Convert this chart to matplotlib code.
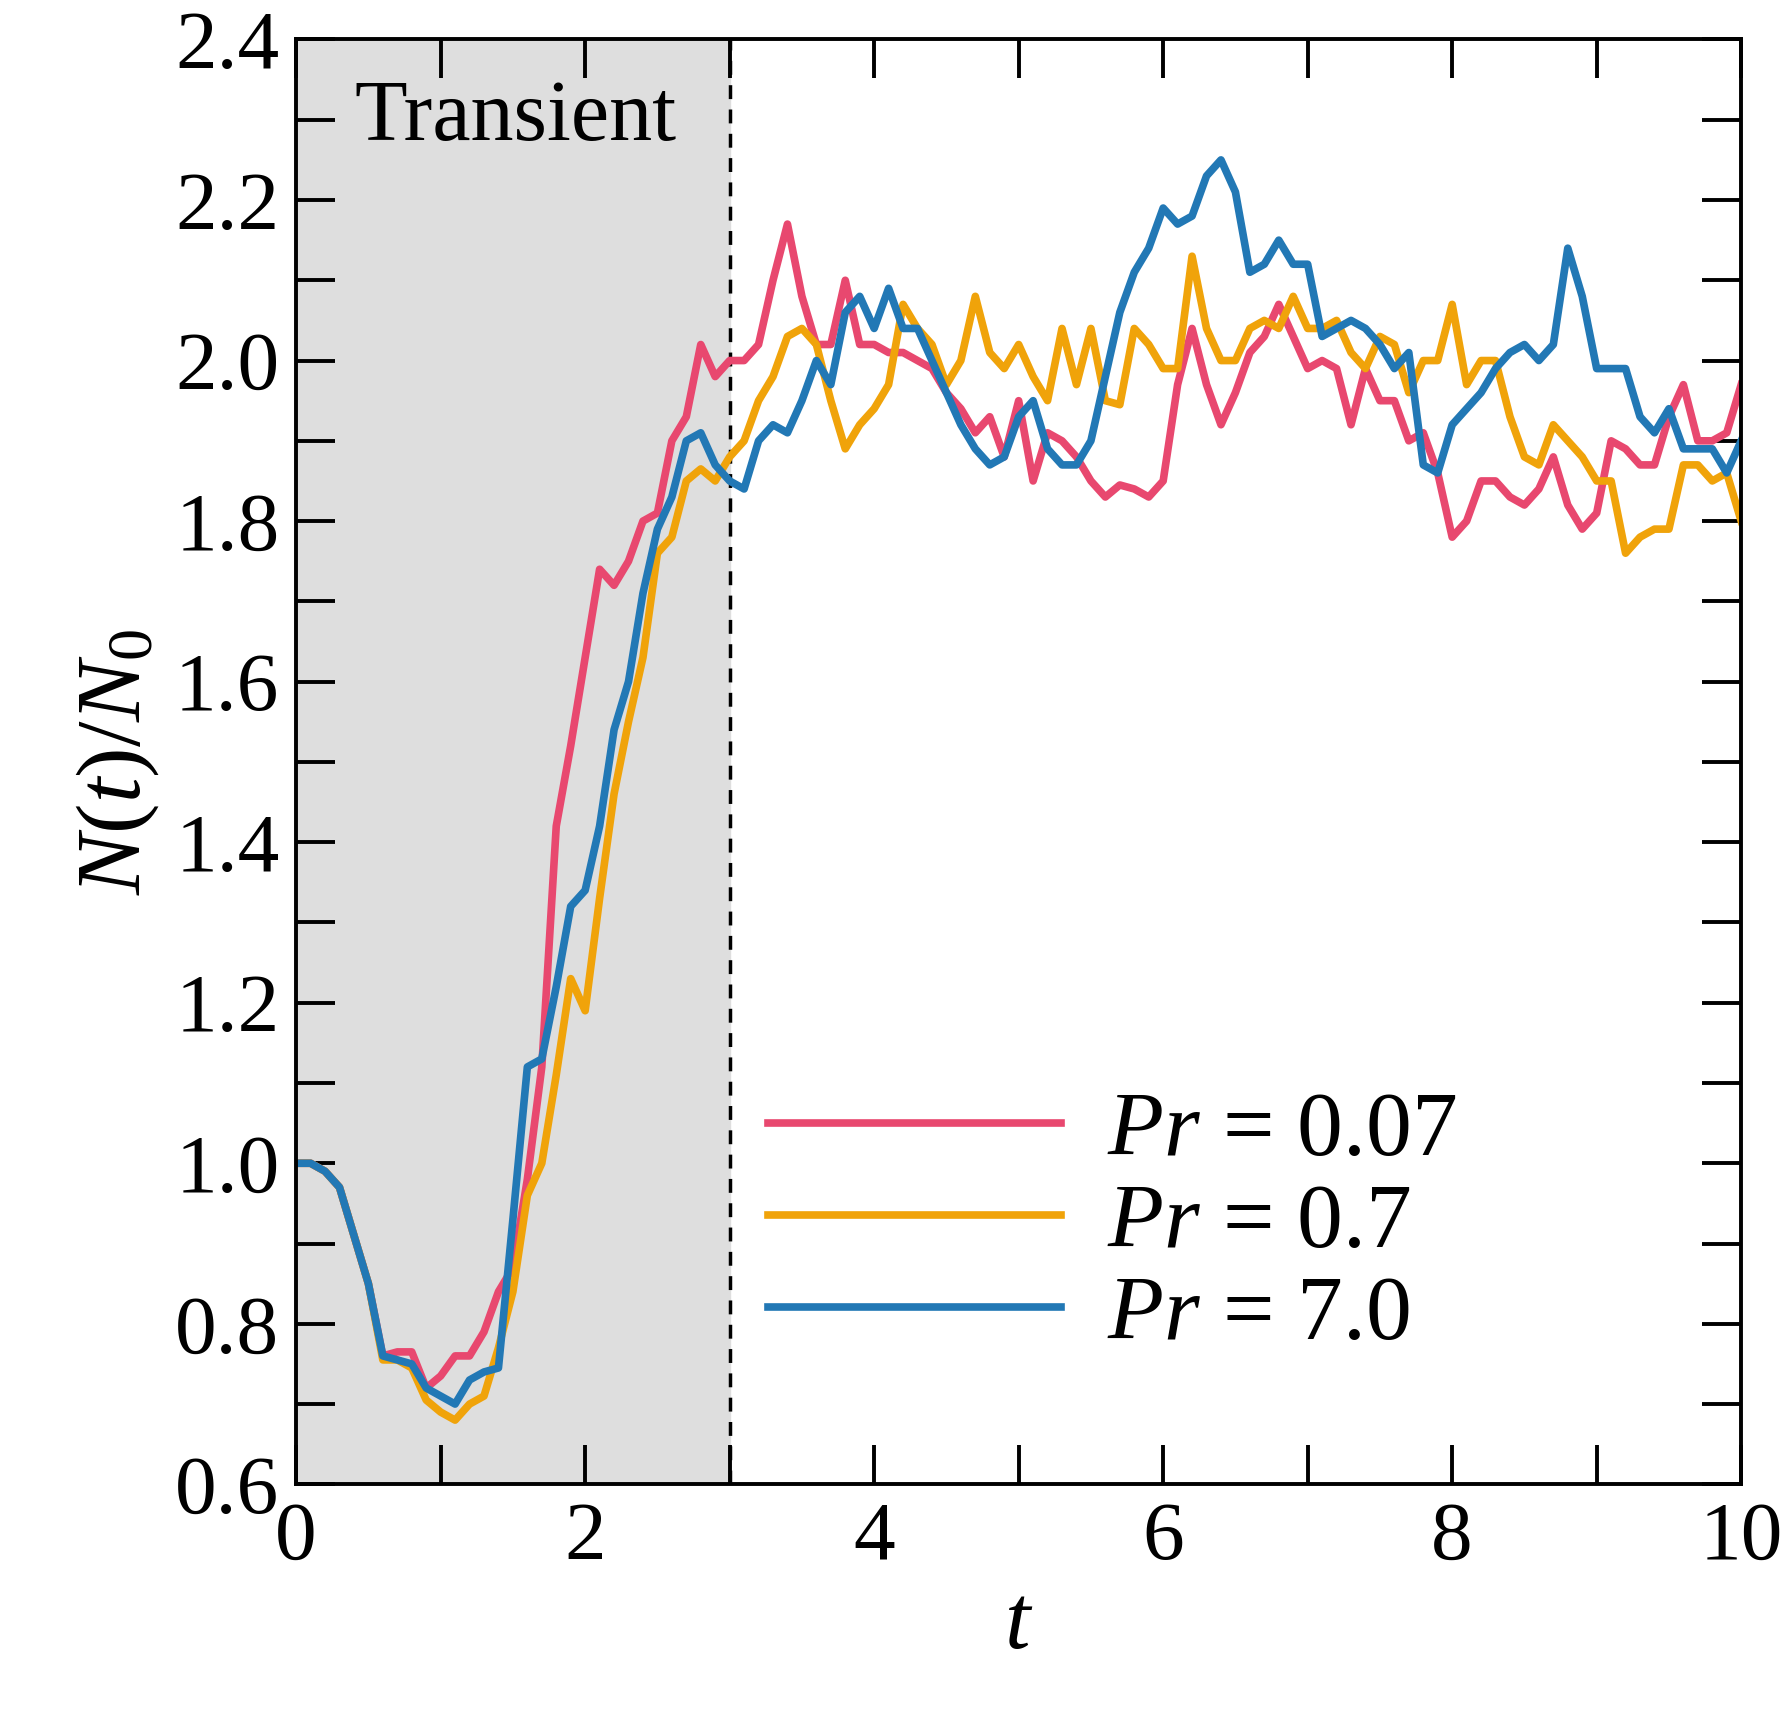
import numpy as np
import matplotlib
matplotlib.use("Agg")
import matplotlib.pyplot as plt

plt.rcParams["font.family"] = ["Liberation Serif", "DejaVu Serif"]
plt.rcParams["mathtext.fontset"] = "custom"
plt.rcParams["mathtext.it"] = "Liberation Serif:italic"
plt.rcParams["mathtext.rm"] = "Liberation Serif"

start = [1.00, 1.00, 0.99, 0.97, 0.91, 0.85]
pr007 = start + [
    0.76, 0.765, 0.765, 0.72, 0.735, 0.76, 0.76, 0.79, 0.84, 0.87,
    0.98, 1.12, 1.42, 1.52, 1.63, 1.74, 1.72, 1.75, 1.80, 1.81,
    1.90, 1.93, 2.02, 1.98, 2.00, 2.00, 2.02, 2.10, 2.17, 2.08,
    2.02, 2.02, 2.10, 2.02, 2.02, 2.01, 2.01, 2.00, 1.99, 1.96,
    1.94, 1.91, 1.93, 1.88, 1.95, 1.85, 1.91, 1.90, 1.88, 1.85,
    1.83, 1.845, 1.84, 1.83, 1.85, 1.97, 2.04, 1.97, 1.92, 1.96,
    2.01, 2.03, 2.07, 2.03, 1.99, 2.00, 1.99, 1.92, 1.99, 1.95,
    1.95, 1.90, 1.91, 1.86, 1.78, 1.80, 1.85, 1.85, 1.83, 1.82,
    1.84, 1.88, 1.82, 1.79, 1.81, 1.90, 1.89, 1.87, 1.87, 1.93,
    1.97, 1.90, 1.90, 1.91, 1.97]
pr07 = start + [
    0.755, 0.755, 0.745, 0.705, 0.69, 0.68, 0.70, 0.71, 0.77, 0.84,
    0.96, 1.00, 1.11, 1.23, 1.19, 1.33, 1.46, 1.55, 1.63, 1.76,
    1.78, 1.85, 1.865, 1.85, 1.88, 1.90, 1.95, 1.98, 2.03, 2.04,
    2.02, 1.95, 1.89, 1.92, 1.94, 1.97, 2.07, 2.04, 2.02, 1.97,
    2.00, 2.08, 2.01, 1.99, 2.02, 1.98, 1.95, 2.04, 1.97, 2.04,
    1.95, 1.945, 2.04, 2.02, 1.99, 1.99, 2.13, 2.04, 2.00, 2.00,
    2.04, 2.05, 2.04, 2.08, 2.04, 2.04, 2.05, 2.01, 1.99, 2.03,
    2.02, 1.96, 2.00, 2.00, 2.07, 1.97, 2.00, 2.00, 1.93, 1.88,
    1.87, 1.92, 1.90, 1.88, 1.85, 1.85, 1.76, 1.78, 1.79, 1.79,
    1.87, 1.87, 1.85, 1.86, 1.80]
pr70 = start + [
    0.76, 0.755, 0.75, 0.72, 0.71, 0.70, 0.73, 0.74, 0.745, 0.93,
    1.12, 1.13, 1.22, 1.32, 1.34, 1.42, 1.54, 1.60, 1.71, 1.79,
    1.83, 1.90, 1.91, 1.87, 1.85, 1.84, 1.90, 1.92, 1.91, 1.95,
    2.00, 1.97, 2.06, 2.08, 2.04, 2.09, 2.04, 2.04, 2.00, 1.96,
    1.92, 1.89, 1.87, 1.88, 1.93, 1.95, 1.89, 1.87, 1.87, 1.90,
    1.98, 2.06, 2.11, 2.14, 2.19, 2.17, 2.18, 2.23, 2.25, 2.21,
    2.11, 2.12, 2.15, 2.12, 2.12, 2.03, 2.04, 2.05, 2.04, 2.02,
    1.99, 2.01, 1.87, 1.86, 1.92, 1.94, 1.96, 1.99, 2.01, 2.02,
    2.00, 2.02, 2.14, 2.08, 1.99, 1.99, 1.99, 1.93, 1.91, 1.94,
    1.89, 1.89, 1.89, 1.86, 1.90]

series = [
    (pr007, "$Pr$ = 0.07", "#e8486f"),
    (pr07, "$Pr$ = 0.7", "#f0a30a"),
    (pr70, "$Pr$ = 7.0", "#2278b5"),
]

fig = plt.figure(figsize=(17.84, 17.16), dpi=100)
ax = fig.add_axes([0.166, 0.135, 0.810, 0.842])

ax.axvspan(0, 3, color="#dedede", zorder=0)
ax.axvline(3, color="black", ls=(0, (4, 3)), lw=2.5, zorder=1)

for vals, label, color in series:
    t = np.linspace(0, 10, len(vals))
    ax.plot(t, vals, color=color, lw=5.5, label=label, zorder=2)

ax.text(0.4, 2.3, "Transient", fontsize=62, va="center")

ax.set_xlim(0, 10)
ax.set_ylim(0.6, 2.4)
ax.set_xticks(np.arange(0, 11, 2))
ax.set_xticks(np.arange(1, 10, 2), minor=True)
ax.set_yticks(np.arange(0.6, 2.41, 0.2))
ax.set_yticks(np.arange(0.7, 2.4, 0.2), minor=True)
ax.set_yticklabels([f"{v:.1f}" for v in np.arange(0.6, 2.41, 0.2)])
ax.tick_params(which="both", direction="in", top=True, right=True, width=2.8, labelsize=60, pad=12)
ax.tick_params(which="both", length=28)
for s in ax.spines.values():
    s.set_linewidth(2.8)

ax.set_xlabel("$t$", fontsize=66, labelpad=6)
ax.set_ylabel("$N(t)/N_0$", fontsize=66, labelpad=10)

ax.legend(loc="lower right", bbox_to_anchor=(0.86, 0.03), frameon=False, fontsize=66,
          handlelength=3.2, labelspacing=0.1, handletextpad=0.5)

fig.savefig("out.png", dpi=100)
